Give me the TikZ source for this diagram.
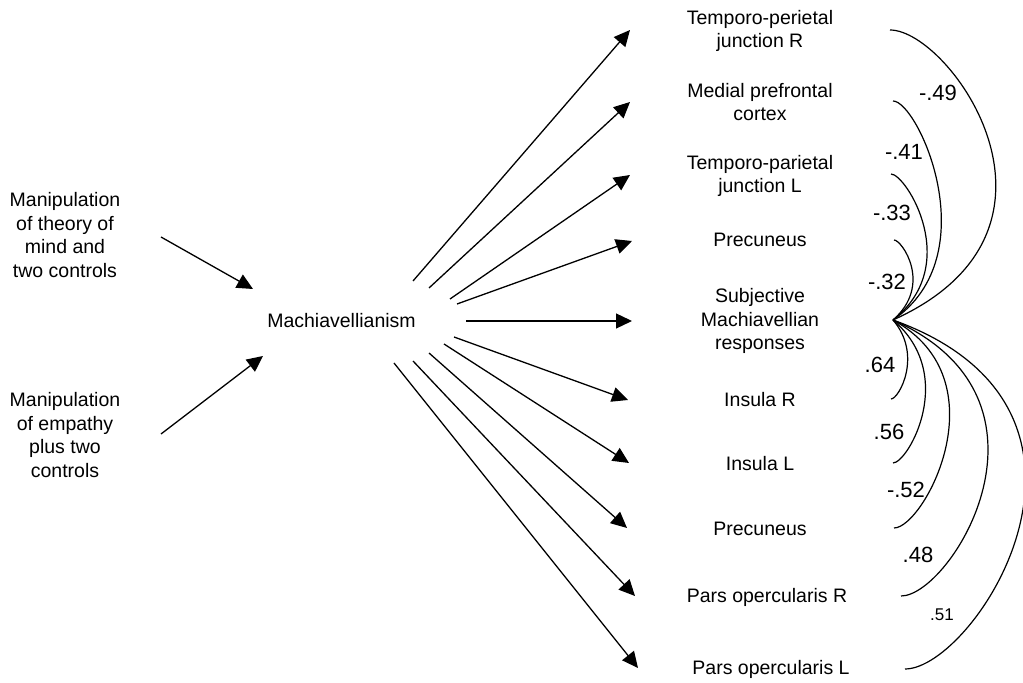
\documentclass[tikz,border=0pt]{standalone}
\usepackage{fontspec}
\setmainfont{Liberation Sans}
\usetikzlibrary{arrows.meta}
\begin{document}
\begin{tikzpicture}[x=0.5pt,y=-0.5pt,
  lbl/.style={font=\fontsize{9.75pt}{11.75pt}\selectfont, align=center, inner sep=0pt},
  coef/.style={font=\fontsize{11pt}{13pt}\selectfont, inner sep=0pt},
  smallcoef/.style={font=\fontsize{8.5pt}{10pt}\selectfont, inner sep=0pt},
  effect/.style={-{Triangle[length=8pt,width=7.5pt]}, line width=0.65pt},
  covar/.style={line width=0.6pt}]
\useasboundingbox (0,0) rectangle (1023,683);

% predictors and mediator
\node[lbl] (tom)  at (65,235)    {Manipulation\\of theory of\\mind and\\two controls};
\node[lbl] (emp)  at (65,435)    {Manipulation\\of empathy\\plus two\\controls};
\node[lbl] (mach) at (341.5,321) {Machiavellianism};

% outcome regions
\node[lbl] (tpjr)  at (760,31)  {Temporo-perietal\\junction R};
\node[lbl] (mpfc)  at (760,102) {Medial prefrontal\\cortex};
\node[lbl] (tpjl)  at (760,176) {Temporo-parietal\\junction L};
\node[lbl] (precA) at (760,240) {Precuneus};
\node[lbl] (subj)  at (760,321) {Subjective\\Machiavellian\\responses};
\node[lbl] (insr)  at (760,400) {Insula R};
\node[lbl] (insl)  at (760,464) {Insula L};
\node[lbl] (precB) at (760,529) {Precuneus};
\node[lbl] (porr)  at (767,597) {Pars opercularis R};
\node[lbl] (porl)  at (771,669) {Pars opercularis L};

% arrow end points
\coordinate (tomS) at (161,237); \coordinate (tomT) at (253,289);
\coordinate (empS) at (161,434); \coordinate (empT) at (263,356);

\coordinate (m1) at (413,281);  \coordinate (r1) at (630,30);
\coordinate (m2) at (429,288);  \coordinate (r2) at (630,102);
\coordinate (m3) at (450,299);  \coordinate (r3) at (630,175);
\coordinate (m4) at (457,304);  \coordinate (r4) at (632,241);
\coordinate (m5) at (466,321);  \coordinate (r5) at (632,321);
\coordinate (m6) at (454,337);  \coordinate (r6) at (628,400);
\coordinate (m7) at (444,344);  \coordinate (r7) at (629,463);
\coordinate (m8) at (429,353);  \coordinate (r8) at (627,528);
\coordinate (m9) at (413,361);  \coordinate (r9) at (635,596);
\coordinate (m10) at (394,363); \coordinate (r10) at (638,668);

\draw[effect] (tomS) -- (tomT);
\draw[effect] (empS) -- (empT);
\foreach \i in {1,...,10} \draw[effect] (m\i) -- (r\i);

% correlations with the subjective responses
\coordinate (hub) at (893,320);
\coordinate (c1) at (890,30);
\coordinate (c2) at (893,101);
\coordinate (c3) at (891,174);
\coordinate (c4) at (894,240);
\coordinate (c5) at (891,399);
\coordinate (c6) at (893,463);
\coordinate (c7) at (894,528);
\coordinate (c8) at (901,596);
\coordinate (c9) at (905,669);

\draw[covar] (c1) .. controls +(60,0) and +(200,-90) .. (hub);
\draw[covar] (c2) .. controls +(25,0) and +(95,-65) .. (hub);
\draw[covar] (c3) .. controls +(15,0) and +(70,-55) .. (hub);
\draw[covar] (c4) .. controls +(8,0) and +(40,-35) .. (hub);
\draw[covar] (c5) .. controls +(8,0) and +(30,35) .. (hub);
\draw[covar] (c6) .. controls +(15,0) and +(65,55) .. (hub);
\draw[covar] (c7) .. controls +(30,0) and +(110,60) .. (hub);
\draw[covar] (c8) .. controls +(50,0) and +(180,80) .. (hub);
\draw[covar] (c9) .. controls +(70,0) and +(250,90) .. (hub);

\node[coef] (k1) at (938,93)  {-.49};
\node[coef] (k2) at (904,152) {-.41};
\node[coef] (k3) at (892,213) {-.33};
\node[coef] (k4) at (887,282) {-.32};
\node[coef] (k5) at (880,365) {.64};
\node[coef] (k6) at (889,432) {.56};
\node[coef] (k7) at (906,490) {-.52};
\node[coef] (k8) at (918,555) {.48};
\node[smallcoef] (k9) at (942,615) {.51};
\end{tikzpicture}
\end{document}
